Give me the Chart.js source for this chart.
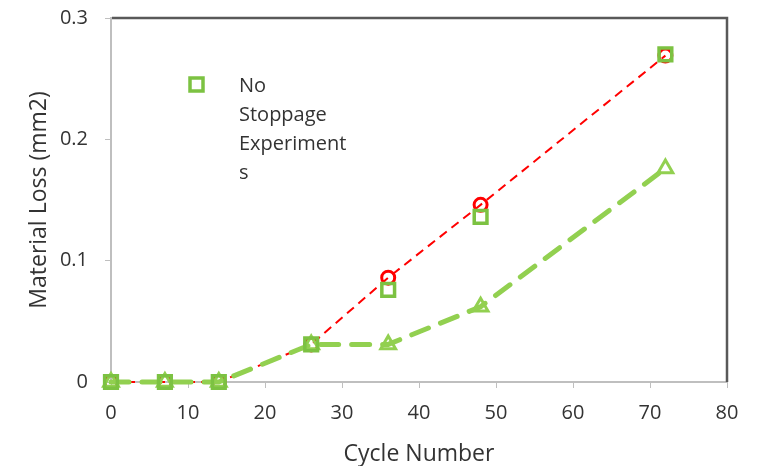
<!DOCTYPE html>
<html>
<head>
<meta charset="utf-8">
<title>Material Loss vs Cycle Number</title>
<script src="https://cdn.jsdelivr.net/npm/chart.js@4/dist/chart.umd.min.js"></script>
<style>
  html, body { margin: 0; padding: 0; background: #fff; }
  #wrap { width: 760px; height: 466px; }
</style>
</head>
<body>
<div id="wrap"><canvas id="chart" width="760" height="466"></canvas></div>
<script>
// cycle numbers where losses were measured
const cycles = [0, 7, 14, 26, 36, 48, 72];
// red circles + thin dashed line
const redCircleLoss = [0, 0, 0, 0.031, 0.086, 0.146, 0.269];
// green squares, no line (legend: No Stoppage Experiments)
const noStoppageLoss = [0, 0, 0, 0.031, 0.076, 0.136, 0.270];
// green triangles + thick dashed line
const triangleLoss = [0, 0, 0, 0.031, 0.031, 0.062, 0.176];

const xTicks = [0, 10, 20, 30, 40, 50, 60, 70, 80];
const yTicks = [0, 0.1, 0.2, 0.3];
const yTickLabels = ['0', '0.1', '0.2', '0.3'];
const legendLines = ['No', 'Stoppage', 'Experiment', 's'];

const FONT = "'Open Sans', sans-serif";
const TEXT = '#333333';
const RED = '#ff0000';
const GREEN = '#92d050';
const SQ_GREEN = '#7cc242';

const toPoints = vals => cycles.map((c, i) => ({ x: c, y: vals[i] }));

// dark frame on top and right like the original
const framePlugin = {
  id: 'frame',
  beforeDatasetsDraw(chart) {
    const { ctx, chartArea: a } = chart;
    ctx.save();
    ctx.strokeStyle = '#595959';
    ctx.lineWidth = 2.5;
    ctx.beginPath();
    ctx.moveTo(a.left + 1, a.top);
    ctx.lineTo(a.right, a.top);
    ctx.lineTo(a.right, a.bottom);
    ctx.stroke();
    ctx.restore();
  }
};

// legend with the wrapped label, only the square series is listed
const legendPlugin = {
  id: 'wrappedLegend',
  afterDraw(chart) {
    const { ctx } = chart;
    ctx.save();
    ctx.strokeStyle = SQ_GREEN;
    ctx.lineWidth = 3.5;
    ctx.strokeRect(190, 78, 13, 13);
    ctx.fillStyle = TEXT;
    ctx.font = '20px ' + FONT;
    ctx.textBaseline = 'alphabetic';
    legendLines.forEach((t, i) => ctx.fillText(t, 239, 92 + 29 * i));
    ctx.restore();
  }
};

new Chart(document.getElementById('chart'), {
  type: 'line',
  data: {
    datasets: [
      {
        label: 'No Stoppage Experiments',
        data: toPoints(noStoppageLoss),
        showLine: false,
        pointStyle: 'rect',
        pointRadius: 9,
        pointBorderWidth: 3.5,
        pointBorderColor: SQ_GREEN,
        pointBackgroundColor: 'rgba(0,0,0,0)',
        order: 1,
        clip: false
      },
      {
        label: 'Triangles',
        data: toPoints(triangleLoss),
        borderColor: GREEN,
        borderWidth: 5,
        borderDash: [18, 13],
        borderCapStyle: 'round',
        pointStyle: 'triangle',
        pointRadius: 8.5,
        pointBorderWidth: 3,
        pointBorderColor: GREEN,
        pointBackgroundColor: 'rgba(0,0,0,0)',
        tension: 0,
        order: 2,
        clip: false
      },
      {
        label: 'Circles',
        data: toPoints(redCircleLoss),
        borderColor: RED,
        borderWidth: 2,
        borderDash: [9, 6],
        pointStyle: 'circle',
        pointRadius: 6.5,
        pointBorderWidth: 3,
        pointBorderColor: RED,
        pointBackgroundColor: 'rgba(0,0,0,0)',
        tension: 0,
        order: 3,
        clip: false
      }
    ]
  },
  options: {
    responsive: false,
    animation: false,
    layout: { padding: { left: 0, right: 33, top: 18, bottom: 0 } },
    plugins: {
      legend: { display: false },
      tooltip: { enabled: false }
    },
    scales: {
      x: {
        type: 'linear',
        min: 0,
        max: 80,
        afterFit: s => { s.height = 84; s.paddingLeft = 0; s.paddingRight = 0; },
        afterBuildTicks: s => { s.ticks = xTicks.map(v => ({ value: v })); },
        grid: { drawOnChartArea: false, drawTicks: true, tickLength: 6, color: '#bfbfbf' },
        border: { color: '#bfbfbf', width: 2 },
        ticks: { color: TEXT, font: { family: FONT, size: 20 }, padding: 13, maxRotation: 0 },
        title: { display: true, text: 'Cycle Number', color: TEXT, font: { family: FONT, size: 23 }, padding: { top: 0, bottom: -2 } }
      },
      y: {
        min: 0,
        max: 0.3,
        afterFit: s => { s.width = 111; s.paddingTop = 0; s.paddingBottom = 0; },
        afterBuildTicks: s => { s.ticks = yTicks.map(v => ({ value: v })); },
        grid: { drawOnChartArea: false, drawTicks: true, tickLength: 6, color: '#bfbfbf' },
        border: { color: '#bfbfbf', width: 2 },
        ticks: {
          color: TEXT,
          font: { family: FONT, size: 20 },
          padding: 17,
          callback: (v, i) => yTickLabels[i]
        },
        title: { display: true, text: 'Material Loss (mm2)', color: TEXT, font: { family: FONT, size: 23 }, padding: { top: 26, bottom: 0 } }
      }
    }
  },
  plugins: [framePlugin, legendPlugin]
});
</script>
</body>
</html>
